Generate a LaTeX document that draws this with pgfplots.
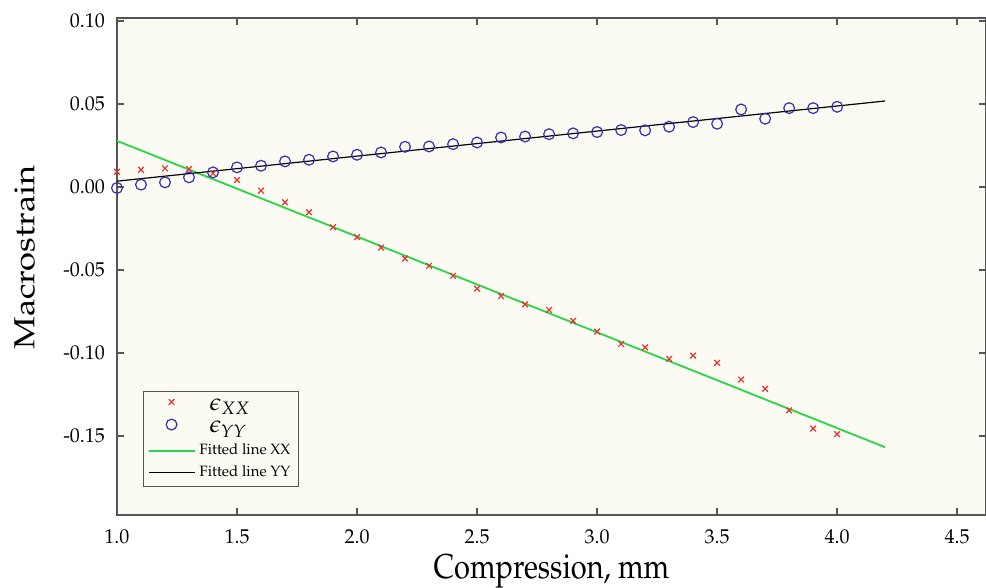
\documentclass[border=0pt]{standalone}
\usepackage[T1]{fontenc}
\usepackage{mathpazo}
\usepackage{pgfplots}
\pgfplotsset{compat=1.18}
\definecolor{cream}{RGB}{252,251,243}
\definecolor{frame}{RGB}{85,85,85}
\definecolor{xxred}{RGB}{232,50,50}
\definecolor{yyblue}{RGB}{55,45,175}
\definecolor{fitgreen}{RGB}{40,215,70}
\pgfplotsset{
  legmark/.style={legend image code/.code={\draw[##1] plot coordinates {(11.5pt,2pt)};}},
  legline/.style={legend image code/.code={\draw[##1] (0pt,0pt) -- (23pt,0pt);}},
}

\begin{document}
\begin{tikzpicture}
  \begin{axis}[
      scale only axis,
      width=434.5pt, height=248.5pt,
      xmin=1.0, xmax=4.62,
      ymin=-0.1976, ymax=0.1018,
      xtick={1.0,1.5,2.0,2.5,3.0,3.5,4.0,4.5},
      xticklabels={1.0,1.5,2.0,2.5,3.0,3.5,4.0,4.5},
      ytick={-0.15,-0.10,-0.05,0,0.05,0.10},
      yticklabels={-0.15,-0.10,-0.05,0.00,0.05,0.10},
      tick align=inside,
      major tick length=3.5pt,
      tick style={frame, line width=0.7pt},
      axis line style={frame, line width=0.7pt},
      ticklabel style={font=\fontsize{10}{12}\selectfont},
      yticklabel style={xshift=-2.5pt},
      xticklabel style={yshift=-4pt},
      axis background/.style={fill=cream},
      xlabel={\scalebox{1}[1.19]{Compression, mm}},
      ylabel={\scalebox{1.19}[1]{Macrostrain}},
      every axis x label/.style={at={(axis description cs:0.5,0)},
        anchor=base, yshift=-32pt, font=\fontsize{14.5}{16}\selectfont},
      every axis y label/.style={at={(axis description cs:-0.1064,0.518)},
        anchor=center, rotate=90, font=\fontsize{14.5}{16}\selectfont},
      legend style={at={(0.03,0.056)}, anchor=south west,
        draw=frame, fill=cream, line width=0.6pt,
        font=\fontsize{7.5}{9}\selectfont,
        inner xsep=2pt, inner ysep=1.5pt, row sep=0pt},
      legend cell align=left,
    ]
    \addplot[only marks, mark=x, mark size=2pt, xxred, mark options={line width=0.6pt}, legmark]
      table {
        x    y
        1.0  0.0092
        1.1  0.0104
        1.2  0.0112
        1.3  0.0108
        1.4  0.0082
        1.5  0.0042
        1.6  -0.0022
        1.7  -0.0092
        1.8  -0.0152
        1.9  -0.0242
        2.0  -0.0302
        2.1  -0.0365
        2.2  -0.0431
        2.3  -0.0475
        2.4  -0.0535
        2.5  -0.0612
        2.6  -0.0657
        2.7  -0.0707
        2.8  -0.0741
        2.9  -0.0807
        3.0  -0.0871
        3.1  -0.0946
        3.2  -0.0966
        3.3  -0.1036
        3.4  -0.1016
        3.5  -0.1060
        3.6  -0.1160
        3.7  -0.1216
        3.8  -0.1346
        3.9  -0.1455
        4.0  -0.1489
      };
    \addlegendentry{\hspace*{5pt}\rule[-2pt]{0pt}{7.5pt}{\fontsize{12}{13}\selectfont$\epsilon_{XX}$}}
    \addplot[only marks, mark=o, mark size=2.7pt, yyblue, mark options={line width=0.6pt}, legmark]
      table {
        x    y
        1.0  -0.0006
        1.1  0.0014
        1.2  0.0028
        1.3  0.0058
        1.4  0.0088
        1.5  0.0118
        1.6  0.0128
        1.7  0.0154
        1.8  0.0164
        1.9  0.0184
        2.0  0.0194
        2.1  0.0208
        2.2  0.0242
        2.3  0.0244
        2.4  0.0258
        2.5  0.0268
        2.6  0.0298
        2.7  0.0304
        2.8  0.0318
        2.9  0.0323
        3.0  0.0331
        3.1  0.0343
        3.2  0.0341
        3.3  0.0363
        3.4  0.0391
        3.5  0.0381
        3.6  0.0467
        3.7  0.0411
        3.8  0.0475
        3.9  0.0475
        4.0  0.0483
      };
    \addlegendentry{\hspace*{5pt}\rule[-2pt]{0pt}{7.5pt}{\fontsize{12}{13}\selectfont$\epsilon_{YY}$}}
    \addplot[fitgreen, line width=0.9pt, legline]
      coordinates {(1.0,0.0278) (4.2,-0.1568)};
    \addlegendentry{Fitted line XX}
    \addplot[black, line width=0.6pt, legline]
      coordinates {(1.0,0.0035) (4.2,0.0518)};
    \addlegendentry{Fitted line YY}
    \coordinate (bl) at (rel axis cs:0,0);
    \coordinate (tr) at (rel axis cs:1,1);
  \end{axis}
  \pgfresetboundingbox
  \useasboundingbox ([xshift=-58.5pt,yshift=-36.5pt]bl) rectangle ([yshift=9pt]tr);
\end{tikzpicture}
\end{document}
